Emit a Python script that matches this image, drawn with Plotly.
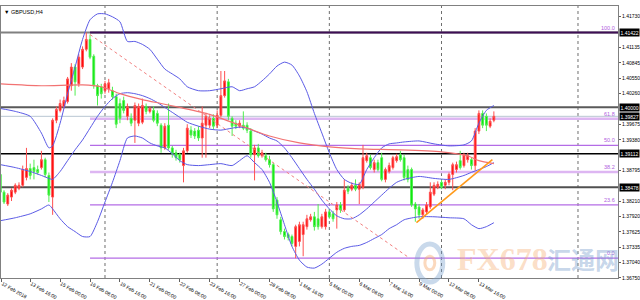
import plotly.graph_objects as go

# ---------------- data ----------------
bar_index = list(range(2, 135))

opens = [1.38720, 1.38383, 1.38157, 1.38289, 1.38383, 1.38457, 1.38514, 1.38664, 1.38832, 1.38851,
         1.38813, 1.38851, 1.39001, 1.38701, 1.38289, 1.39752, 1.39940, 1.40015, 1.40108, 1.40409,
         1.40765, 1.40446, 1.40765, 1.41103, 1.41291, 1.40972, 1.40409, 1.40390, 1.40315, 1.40352,
         1.40315, 1.40202, 1.40071, 1.40127, 1.39827, 1.39789, 1.39752, 1.39696, 1.39714, 1.40015,
         1.39921, 1.39940, 1.39883, 1.39658, 1.39226, 1.39658, 1.39226, 1.39133, 1.39095, 1.38889,
         1.39170, 1.39564, 1.39546, 1.39564, 1.39414, 1.39658, 1.39658, 1.39789, 1.39658, 1.39846,
         1.40221, 1.40484, 1.39789, 1.39696, 1.39639, 1.39658, 1.39658, 1.39546, 1.39095, 1.39226,
         1.39076, 1.39076, 1.39001, 1.38907, 1.38232, 1.37857, 1.37632, 1.37575, 1.37538, 1.37350,
         1.37444, 1.37575, 1.37726, 1.37857, 1.37914, 1.37876, 1.37726, 1.37726, 1.38007, 1.37970,
         1.38045, 1.38139, 1.38045, 1.38457, 1.38439, 1.38514, 1.38439, 1.38476, 1.38983, 1.39039,
         1.38813, 1.38945, 1.39039, 1.38626, 1.38776, 1.38851, 1.38983, 1.39095, 1.39039, 1.38813,
         1.38813, 1.38157, 1.38101, 1.37951, 1.38007, 1.38101, 1.38345, 1.38476, 1.38570, 1.38514,
         1.38570, 1.38720, 1.38813, 1.38983, 1.38889, 1.39001, 1.39001, 1.38889, 1.39546, 1.39883,
         1.39827, 1.39639, 1.39752]
highs = [1.38757, 1.38420, 1.38364, 1.38457, 1.38551, 1.38570, 1.38889, 1.39226, 1.38926, 1.39001,
         1.38889, 1.39170, 1.39039, 1.38757, 1.39789, 1.40015, 1.40146, 1.40202, 1.40577, 1.40840,
         1.40821, 1.41009, 1.41159, 1.41422, 1.41384, 1.41009, 1.40446, 1.40446, 1.40502, 1.40540,
         1.40390, 1.40258, 1.40165, 1.40202, 1.40071, 1.39883, 1.40090, 1.40071, 1.40165, 1.40071,
         1.40015, 1.40015, 1.39940, 1.39696, 1.39696, 1.40071, 1.39264, 1.39189, 1.39133, 1.39226,
         1.39677, 1.39639, 1.39602, 1.39639, 1.40015, 1.39883, 1.39846, 1.39865, 1.39940, 1.40690,
         1.40690, 1.40540, 1.39827, 1.39752, 1.39752, 1.39921, 1.39714, 1.39602, 1.39283, 1.39302,
         1.39189, 1.39133, 1.39076, 1.38945, 1.38289, 1.37914, 1.37688, 1.37613, 1.37575, 1.37763,
         1.37820, 1.37820, 1.37951, 1.37970, 1.38007, 1.38157, 1.37970, 1.38064, 1.38064, 1.38026,
         1.38195, 1.38195, 1.38626, 1.38514, 1.38570, 1.38626, 1.38570, 1.39283, 1.39133, 1.39095,
         1.39001, 1.39001, 1.39133, 1.38851, 1.38945, 1.39076, 1.39114, 1.39170, 1.39095, 1.38889,
         1.38851, 1.38195, 1.38157, 1.38082, 1.38195, 1.38570, 1.38570, 1.38589, 1.38626, 1.38626,
         1.38757, 1.38945, 1.38964, 1.39170, 1.39133, 1.39133, 1.39039, 1.39602, 1.39940, 1.39940,
         1.39883, 1.39789, 1.39921]
lows = [1.38345, 1.38157, 1.38120, 1.38214, 1.38345, 1.38420, 1.38476, 1.38607, 1.38626, 1.38626,
        1.38720, 1.38813, 1.38664, 1.38195, 1.37951, 1.39696, 1.39902, 1.39977, 1.40071, 1.40315,
        1.40221, 1.40390, 1.40727, 1.41065, 1.40915, 1.40352, 1.40033, 1.40165, 1.40258, 1.40277,
        1.40146, 1.39602, 1.39696, 1.39883, 1.39752, 1.39639, 1.39320, 1.39639, 1.39677, 1.39865,
        1.39883, 1.39714, 1.39639, 1.39133, 1.39189, 1.39189, 1.39039, 1.38983, 1.38945, 1.38570,
        1.39133, 1.39414, 1.39395, 1.39358, 1.39039, 1.39039, 1.39602, 1.39583, 1.39602, 1.39808,
        1.40183, 1.39752, 1.39452, 1.39583, 1.39602, 1.39564, 1.39508, 1.39039, 1.38607, 1.39039,
        1.39039, 1.38964, 1.38851, 1.38007, 1.37876, 1.37575, 1.37482, 1.37463, 1.37350, 1.37125,
        1.37350, 1.37163, 1.37669, 1.37820, 1.37651, 1.37669, 1.37688, 1.37669, 1.37876, 1.37820,
        1.37688, 1.37989, 1.38007, 1.38345, 1.38401, 1.38401, 1.38157, 1.38439, 1.38945, 1.38813,
        1.38757, 1.38776, 1.38589, 1.38570, 1.38738, 1.38813, 1.38945, 1.38964, 1.38607, 1.38570,
        1.38101, 1.37820, 1.37876, 1.37876, 1.37951, 1.38064, 1.38308, 1.38439, 1.38439, 1.38439,
        1.38514, 1.38420, 1.38757, 1.38813, 1.38851, 1.38945, 1.38813, 1.38795, 1.39489, 1.39602,
        1.39546, 1.39602, 1.39714]
closes = [1.38383, 1.38195, 1.38326, 1.38420, 1.38514, 1.38514, 1.38813, 1.38832, 1.38701, 1.38776,
          1.38757, 1.39001, 1.38720, 1.38326, 1.39752, 1.39958, 1.40071, 1.40127, 1.40540, 1.40765,
          1.40484, 1.40953, 1.41103, 1.41291, 1.40953, 1.40409, 1.40221, 1.40258, 1.40446, 1.40465,
          1.40202, 1.39677, 1.39789, 1.39940, 1.40015, 1.39696, 1.40033, 1.40015, 1.40033, 1.39921,
          1.39977, 1.39752, 1.39696, 1.39226, 1.39639, 1.39226, 1.39114, 1.39039, 1.39001, 1.39170,
          1.39602, 1.39470, 1.39452, 1.39414, 1.39696, 1.39827, 1.39789, 1.39639, 1.39846, 1.40221,
          1.40502, 1.39827, 1.39639, 1.39639, 1.39696, 1.39602, 1.39564, 1.39095, 1.39226, 1.39076,
          1.39133, 1.39001, 1.38907, 1.38064, 1.37951, 1.37632, 1.37538, 1.37519, 1.37407, 1.37726,
          1.37763, 1.37763, 1.37876, 1.37914, 1.37726, 1.37726, 1.37914, 1.38007, 1.37914, 1.37876,
          1.38139, 1.38045, 1.38420, 1.38401, 1.38514, 1.38439, 1.38532, 1.39039, 1.39076, 1.38851,
          1.38945, 1.38813, 1.38626, 1.38813, 1.38889, 1.39039, 1.39058, 1.39001, 1.38664, 1.38626,
          1.38139, 1.38064, 1.37951, 1.38045, 1.38139, 1.38383, 1.38514, 1.38532, 1.38476, 1.38570,
          1.38720, 1.38907, 1.38907, 1.38851, 1.39095, 1.39076, 1.38889, 1.39546, 1.39883, 1.39658,
          1.39658, 1.39733, 1.39827]

bb_index = [2, 6, 10, 13, 15, 16, 18, 20, 22, 24, 26, 28, 30, 32, 34, 36, 38, 40, 42, 44, 46, 48,
            50, 52, 55, 58, 61, 64, 66, 68, 70, 72, 74, 76, 78, 80, 82, 84, 86, 88, 90, 92, 94, 96,
            98, 100, 102, 104, 106, 108, 110, 114, 118, 122, 126, 128, 130, 132, 134]
bb_upper = [1.39977, 1.39921, 1.39827, 1.39508, 1.39226, 1.39264, 1.39696, 1.40258, 1.40765, 1.41291,
            1.41666, 1.41778, 1.41778, 1.41722, 1.41628, 1.41253, 1.41253, 1.41197, 1.41103, 1.40915,
            1.40727, 1.40634, 1.40540, 1.40390, 1.40315, 1.40315, 1.40352, 1.40390, 1.40315, 1.40352,
            1.40390, 1.40502, 1.40634, 1.40784, 1.40859, 1.40803, 1.40596, 1.40296, 1.39883, 1.39508,
            1.39133, 1.38813, 1.38626, 1.38551, 1.38532, 1.38813, 1.39039, 1.39226, 1.39302, 1.39320,
            1.39339, 1.39358, 1.39302, 1.39264, 1.39283, 1.39358, 1.39696, 1.39940, 1.40033]
bb_middle = [1.38907, 1.38851, 1.38776, 1.38701, 1.38645, 1.38626, 1.38776, 1.38983, 1.39189, 1.39377,
             1.39602, 1.39827, 1.40015, 1.40165, 1.40258, 1.40277, 1.40258, 1.40221, 1.40165, 1.40090,
             1.39996, 1.39902, 1.39808, 1.39714, 1.39639, 1.39583, 1.39564, 1.39602, 1.39621, 1.39602,
             1.39546, 1.39489, 1.39414, 1.39358, 1.39226, 1.39039, 1.38832, 1.38626, 1.38439, 1.38232,
             1.38064, 1.37932, 1.37876, 1.37876, 1.37951, 1.38064, 1.38195, 1.38326, 1.38457, 1.38570,
             1.38626, 1.38682, 1.38645, 1.38626, 1.38701, 1.38760, 1.38813, 1.38870, 1.38945]
bb_lower = [1.37839, 1.37895, 1.37970, 1.38064, 1.38139, 1.38064, 1.37876, 1.37726, 1.37632, 1.37538,
            1.37538, 1.37820, 1.38195, 1.38570, 1.38983, 1.39414, 1.39452, 1.39414, 1.39320, 1.39264,
            1.39226, 1.39114, 1.38983, 1.38907, 1.38889, 1.38907, 1.38926, 1.38889, 1.38983, 1.39076,
            1.38945, 1.38813, 1.38570, 1.38195, 1.37763, 1.37350, 1.37088, 1.36956, 1.36937, 1.37012,
            1.37125, 1.37238, 1.37313, 1.37350, 1.37369, 1.37425, 1.37500, 1.37575, 1.37688, 1.37763,
            1.37857, 1.37914, 1.37914, 1.37895, 1.37876, 1.37763, 1.37688, 1.37726, 1.37801]

ma_index = [2, 13, 24, 29, 34, 40, 45, 50, 58, 66, 74, 82, 90, 98, 109, 120, 127, 130, 134]
ma_values = [1.40446, 1.40409, 1.40427, 1.40390, 1.40258, 1.40146, 1.40071, 1.39996, 1.39865, 1.39658,
             1.39452, 1.39320, 1.39245, 1.39208, 1.39189, 1.39151, 1.39076, 1.38983, 1.38926]

fib_start = 26
fib_high = 1.41422
fib_low = 1.37125
fib_ratios = [100.0, 61.8, 50.0, 38.2, 23.6, 0.0]

fib_trend_index = [26, 111.5]
fib_trend_price = [1.41384, 1.37125]
support_index = [113.3, 133.6]
support_price = [1.37801, 1.39001]

level_lines = [1.40000, 1.39112, 1.38478]
bid_price = 1.39827
highlight_prices = [1.41422, 1.40000, 1.39827, 1.39112, 1.38478]
price_ticks = [1.41730, 1.41135, 1.40845, 1.40550, 1.40260, 1.39675, 1.39380, 1.38795,
               1.38210, 1.37920, 1.37625, 1.37335, 1.37040, 1.36750]
time_tick_index = [2.3, 10, 18, 26, 34, 42, 50, 58, 66, 74, 82, 90, 98, 106, 114, 122, 130]
time_tick_text = ["12 Feb 2018", "13 Feb 16:00", "15 Feb 00:00", "16 Feb 08:00", "19 Feb 16:00",
                  "21 Feb 00:00", "22 Feb 08:00", "23 Feb 16:00", "27 Feb 00:00", "28 Feb 08:00",
                  "1 Mar 16:00", "5 Mar 00:00", "6 Mar 08:00", "7 Mar 16:00", "9 Mar 00:00",
                  "12 Mar 08:00", "13 Mar 16:00"]
separator_index = [30, 60, 90, 120, 156.5]

X_RANGE = [2.19, 167.2]
Y_RANGE = [1.36748, 1.41928]
FONT = "Liberation Sans"

fig = go.Figure()

fig.add_trace(go.Candlestick(
    x=bar_index, open=opens, high=highs, low=lows, close=closes,
    increasing=dict(fillcolor="#FF0000", line=dict(color="#FF5050", width=1)),
    decreasing=dict(fillcolor="#00E800", line=dict(color="#50EE50", width=1)),
    whiskerwidth=0, showlegend=False, hoverinfo="skip"))

for series in (bb_upper, bb_middle, bb_lower):
    fig.add_trace(go.Scatter(x=bb_index, y=series, mode="lines",
                             line=dict(color="#5A5AE6", width=1, shape="spline", smoothing=0.6),
                             showlegend=False, hoverinfo="skip"))

fig.add_trace(go.Scatter(x=ma_index, y=ma_values, mode="lines",
                         line=dict(color="#F27272", width=1.2, shape="spline", smoothing=0.6),
                         showlegend=False, hoverinfo="skip"))
fig.add_trace(go.Scatter(x=fib_trend_index, y=fib_trend_price, mode="lines",
                         line=dict(color="#F28080", width=1, dash="dot"),
                         showlegend=False, hoverinfo="skip"))
fig.add_trace(go.Scatter(x=support_index, y=support_price, mode="lines",
                         line=dict(color="#FF9A1A", width=1.6),
                         showlegend=False, hoverinfo="skip"))

shapes = []
# weekly separators
for s in separator_index:
    shapes.append(dict(type="line", xref="x", yref="paper", x0=s, x1=s, y0=0, y1=1,
                       line=dict(color="#6E6E6E", width=1, dash="dot"), layer="below"))
# horizontal levels
shapes.append(dict(type="line", xref="paper", yref="y", x0=0, x1=1, y0=fib_high, y1=fib_high,
                   line=dict(color="#808080", width=2), layer="below"))
shapes.append(dict(type="line", xref="paper", yref="y", x0=0, x1=1, y0=bid_price, y1=bid_price,
                   line=dict(color="#B8C6D2", width=1), layer="below"))
level_styles = [("#5A5A5A", 2), ("#000000", 1.5), ("#505050", 2)]
for p, (c, w) in zip(level_lines, level_styles):
    shapes.append(dict(type="line", xref="paper", yref="y", x0=0, x1=1, y0=p, y1=p,
                       line=dict(color=c, width=w), layer="below"))
# fibonacci levels
fib_styles = {100.0: ("#3E0E55", 2), 61.8: ("#DDB6F2", 2.5), 50.0: ("#B46CE6", 1.3),
              38.2: ("#DDB6F2", 2.5), 23.6: ("#B46CE6", 1.3), 0.0: ("#B46CE6", 1.3)}
annotations = []
for r in fib_ratios:
    p = fib_low + (fib_high - fib_low) * r / 100.0
    c, w = fib_styles[r]
    shapes.append(dict(type="line", xref="x", yref="y", x0=fib_start, x1=X_RANGE[1] + 5,
                       y0=p, y1=p, line=dict(color=c, width=w), layer="below"))
    annotations.append(dict(xref="paper", yref="y", x=1, y=p, xanchor="right", yanchor="bottom",
                            xshift=-1, yshift=0, text=f"{r:.1f}", showarrow=False,
                            font=dict(family=FONT, size=5.5, color="#B060E0")))

# highlighted price labels on the axis
for p in highlight_prices:
    annotations.append(dict(xref="paper", yref="y", x=1, y=p, xanchor="left", yanchor="middle",
                            xshift=1, text=f"{p:.5f}", showarrow=False, bgcolor="#000000",
                            borderpad=0.5, font=dict(family=FONT, size=5, color="#FFFFFF")))

# title
annotations.append(dict(xref="paper", yref="paper", x=0, y=1, xanchor="left", yanchor="top",
                        xshift=1, yshift=-1, text="▼ GBPUSD,H4", showarrow=False,
                        font=dict(family=FONT, size=5.5, color="#000000")))

# watermark
annotations.append(dict(xref="paper", yref="paper", x=0.736, y=0.07, xanchor="left",
                        yanchor="middle", text="<b>FX678</b>", showarrow=False,
                        font=dict(family="Liberation Sans Narrow", size=32,
                                  color="rgba(246,170,110,0.40)")))
annotations.append(dict(xref="paper", yref="paper", x=0.882, y=0.07, xanchor="left",
                        yanchor="middle", text="<b>汇通网</b>", showarrow=False,
                        font=dict(family="Noto Sans CJK SC", size=24,
                                  color="rgba(110,150,200,0.40)")))
shapes.append(dict(type="circle", xref="paper", yref="paper", x0=0.674, x1=0.716,
                   y0=-0.015, y1=0.125, line=dict(color="rgba(120,160,205,0.40)", width=5)))
shapes.append(dict(type="circle", xref="paper", yref="paper", x0=0.687, x1=0.703,
                   y0=0.03, y1=0.08, line=dict(color="rgba(246,170,110,0.45)", width=3)))

fig.update_layout(
    width=640, height=300,
    margin=dict(l=0, r=21, t=6, b=18),
    paper_bgcolor="#FFFFFF", plot_bgcolor="#FFFFFF",
    shapes=shapes, annotations=annotations,
    showlegend=False,
    xaxis=dict(range=X_RANGE, tickvals=time_tick_index, ticktext=time_tick_text,
               ticks="outside", ticklen=3, tickcolor="#606060", ticklabelposition="outside right",
               tickfont=dict(family=FONT, size=5, color="#000000"),
               showgrid=False, zeroline=False, showline=True, linecolor="#808080",
               linewidth=1, mirror=True, rangeslider=dict(visible=False), fixedrange=True),
    yaxis=dict(range=Y_RANGE, side="right", tickvals=price_ticks, tickformat=".5f",
               ticks="outside", ticklen=2, tickcolor="#606060",
               tickfont=dict(family=FONT, size=5, color="#000000"),
               showgrid=False, zeroline=False, showline=True, linecolor="#808080",
               linewidth=1, mirror=True, fixedrange=True),
)

fig.write_html("out.html")
